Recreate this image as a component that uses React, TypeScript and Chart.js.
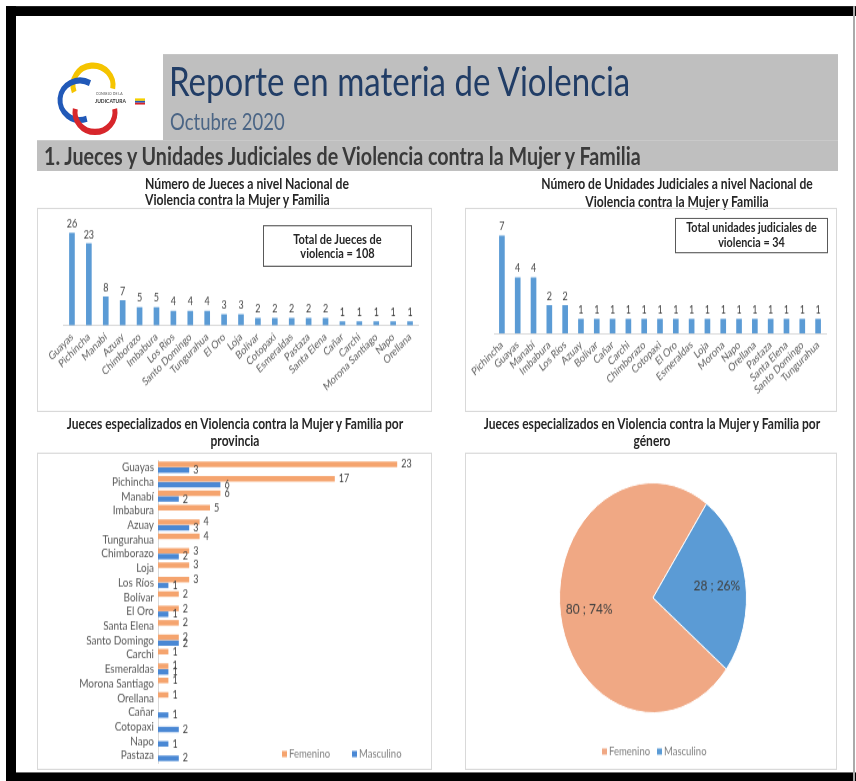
import React, { useEffect, useRef } from "react";
import { Chart, registerables } from "chart.js";
Chart.register(...registerables);

// ---------- DATA ----------
const judgeProvinces = ["Guayas", "Pichincha", "Manabí", "Azuay", "Chimborazo", "Imbabura", "Los Ríos", "Santo Domingo", "Tungurahua", "El Oro", "Loja", "Bolívar", "Cotopaxi", "Esmeraldas", "Pastaza", "Santa Elena", "Cañar", "Carchi", "Morona Santiago", "Napo", "Orellana"];
const judgeCounts = [26, 23, 8, 7, 5, 5, 4, 4, 4, 3, 3, 2, 2, 2, 2, 2, 1, 1, 1, 1, 1];

const unitProvinces = ["Pichincha", "Guayas", "Manabí", "Imbabura", "Los Ríos", "Azuay", "Bolívar", "Cañar", "Carchi", "Chimborazo", "Cotopaxi", "El Oro", "Esmeraldas", "Loja", "Morona", "Napo", "Orellana", "Pastaza", "Santa Elena", "Santo Domingo", "Tungurahua"];
const unitCounts = [7, 4, 4, 2, 2, 1, 1, 1, 1, 1, 1, 1, 1, 1, 1, 1, 1, 1, 1, 1, 1];

const byProvince = ["Guayas", "Pichincha", "Manabí", "Imbabura", "Azuay", "Tungurahua", "Chimborazo", "Loja", "Los Ríos", "Bolívar", "El Oro", "Santa Elena", "Santo Domingo", "Carchi", "Esmeraldas", "Morona Santiago", "Orellana", "Cañar", "Cotopaxi", "Napo", "Pastaza"];
const femaleByProvince = [23, 17, 6, 5, 4, 4, 3, 3, 3, 2, 2, 2, 2, 1, 1, 1, 1, null, null, null, null];
const maleByProvince = [3, 6, 2, null, 3, null, 2, null, 1, null, 1, null, 2, null, 1, null, null, 1, 2, 1, 2];

const genderLabels = ["Femenino", "Masculino"];
const genderTotals = [80, 28];

const totalJudges = 108;
const totalUnits = 34;

// ---------- STYLE ----------
const FONT = "Lato, 'Open Sans', sans-serif";
const BLUE = "#5b9bd5";
const ORANGE = "#f5a46e";
const BLUE2 = "#4a88d4";
const SALMON = "#f0a884";
const SY = 1.23;

function valueLabelPlugin(horizontal: boolean, size: number, offset: number) {
  return {
    id: "valueLabels",
    afterDatasetsDraw(chart: any) {
      const ctx = chart.ctx;
      ctx.save();
      ctx.font = `${size}px ${FONT}`;
      ctx.fillStyle = "#404040";
      chart.data.datasets.forEach((ds: any, di: number) => {
        const meta = chart.getDatasetMeta(di);
        meta.data.forEach((el: any, i: number) => {
          const v = ds.data[i];
          if (v == null) return;
          const { x, y } = el.getProps(["x", "y"], true);
          if (horizontal) {
            ctx.textAlign = "left";
            ctx.textBaseline = "middle";
            ctx.fillText(String(v), x + offset, y);
          } else {
            ctx.textAlign = "center";
            ctx.textBaseline = "bottom";
            ctx.fillText(String(v), x, y - offset);
          }
        });
      });
      ctx.restore();
    },
  };
}

function legendPlugin(items: { text: string; color: string; x: number }[], y: number, size: number) {
  return {
    id: "customLegend",
    afterDraw(chart: any) {
      const ctx = chart.ctx;
      ctx.save();
      ctx.font = `${size}px ${FONT}`;
      ctx.textBaseline = "middle";
      ctx.textAlign = "left";
      items.forEach((it) => {
        ctx.fillStyle = it.color;
        ctx.fillRect(it.x, y - 2.5, 5, 5);
        ctx.fillStyle = "#7f7f7f";
        ctx.fillText(it.text, it.x + 7, y);
      });
      ctx.restore();
    },
  };
}

const pieLabelPlugin = {
  id: "pieLabels",
  afterDatasetsDraw(chart: any) {
    const ctx = chart.ctx;
    const ds = chart.data.datasets[0];
    const total = ds.data.reduce((a: number, b: number) => a + b, 0);
    const meta = chart.getDatasetMeta(0);
    ctx.save();
    ctx.font = `12px ${FONT}`;
    ctx.fillStyle = "#404040";
    ctx.textAlign = "center";
    ctx.textBaseline = "middle";
    meta.data.forEach((arc: any, i: number) => {
      const { x, y, startAngle, endAngle, outerRadius } = arc.getProps(["x", "y", "startAngle", "endAngle", "outerRadius"], true);
      const mid = (startAngle + endAngle) / 2;
      const d = outerRadius * 0.69;
      const v = ds.data[i];
      ctx.fillText(`${v} ; ${Math.round((v / total) * 100)}%`, x + Math.cos(mid) * d, y + Math.sin(mid) * d);
    });
    ctx.restore();
  },
};

function CanvasChart({ x, y, w, h, build }: any) {
  const ref = useRef<HTMLCanvasElement>(null);
  useEffect(() => {
    const c = new Chart(ref.current as HTMLCanvasElement, build());
    return () => c.destroy();
  }, []);
  return <canvas ref={ref} width={w} height={h} style={{ position: "absolute", left: x, top: y, width: w, height: h }} />;
}

function columnConfig(labels: string[], values: number[], max: number, pad: any, xHeight: number) {
  return () => ({
    type: "bar",
    data: { labels, datasets: [{ data: values, backgroundColor: BLUE, barThickness: 5 }] },
    options: {
      animation: false,
      responsive: false,
      layout: { padding: pad },
      plugins: { legend: { display: false }, tooltip: { enabled: false } },
      scales: {
        x: {
          grid: { display: false, drawTicks: false },
          border: { display: true, color: "#d9d9d9" },
          ticks: { color: "#595959", font: { size: 9, family: FONT }, minRotation: 40, maxRotation: 40, autoSkip: false, padding: 4 },
          afterFit(s: any) {
            s.height = xHeight;
            s.paddingLeft = 0;
            s.paddingRight = 0;
          },
        },
        y: { display: false, min: 0, max },
      },
    },
    plugins: [valueLabelPlugin(false, 9, 3)],
  });
}

const provinceConfig = () => ({
  type: "bar",
  data: {
    labels: byProvince,
    datasets: [
      { label: genderLabels[0], data: femaleByProvince, backgroundColor: ORANGE, categoryPercentage: 0.8, barPercentage: 0.95 },
      { label: genderLabels[1], data: maleByProvince, backgroundColor: BLUE2, categoryPercentage: 0.8, barPercentage: 0.95 },
    ],
  },
  options: {
    indexAxis: "y",
    animation: false,
    responsive: false,
    layout: { padding: { left: 0, right: 13, top: 6, bottom: 5 } },
    plugins: { legend: { display: false }, tooltip: { enabled: false } },
    scales: {
      x: { display: false, min: 0, max: 25 },
      y: {
        grid: { display: false, drawTicks: false },
        border: { display: true, color: "#d9d9d9" },
        ticks: { color: "#595959", font: { size: 10, family: FONT }, autoSkip: false, padding: 4 },
        afterFit(s: any) {
          s.width = 120;
          s.paddingTop = 0;
          s.paddingBottom = 0;
        },
      },
    },
  },
  plugins: [
    valueLabelPlugin(true, 9, 4),
    legendPlugin(
      [
        { text: genderLabels[0], color: ORANGE, x: 244 },
        { text: genderLabels[1], color: BLUE2, x: 314 },
      ],
      245,
      9.5
    ),
  ],
});

const pieConfig = () => ({
  type: "pie",
  data: { labels: genderLabels, datasets: [{ data: genderTotals, backgroundColor: [SALMON, BLUE], borderColor: "#ffffff", borderWidth: 1 }] },
  options: {
    animation: false,
    responsive: false,
    rotation: 128.3,
    layout: { padding: { top: 24, bottom: 45, left: 92, right: 88 } },
    plugins: { legend: { display: false }, tooltip: { enabled: false } },
  },
  plugins: [
    pieLabelPlugin,
    legendPlugin(
      [
        { text: genderLabels[0], color: SALMON, x: 135 },
        { text: genderLabels[1], color: BLUE, x: 190 },
      ],
      243,
      9.5
    ),
  ],
});

function Txt({ x, y, size, children, bold, color, align, w }: any) {
  const lh = size * 1.3;
  return (
    <div
      style={{
        position: "absolute",
        left: align === "center" ? x - w / 2 : x,
        top: y - lh / 2,
        width: align === "center" ? w : undefined,
        textAlign: align || "left",
        fontFamily: FONT,
        fontSize: size,
        lineHeight: `${lh}px`,
        fontWeight: bold ? 700 : 400,
        color: color || "#000",
        whiteSpace: "nowrap",
      }}
    >
      {children}
    </div>
  );
}

function Logo() {
  return (
    <svg style={{ position: "absolute", left: 55, top: 49 }} width={95} height={61} viewBox="0 0 95 61">
      <path d="M 19.2 25.8 A 20 16 0 1 1 57.7 23.1" fill="none" stroke="#f5c400" strokeWidth={5} />
      <path d="M 35 18.6 A 20 16 0 1 0 31.8 47.5" fill="none" stroke="#2159b8" strokeWidth={5} />
      <path d="M 20.3 39.5 A 20 16 0 1 0 59.7 39.5" fill="none" stroke="#d7262b" strokeWidth={5} />
      <text x={41} y={28} fontSize={3.5} fill="#555" fontFamily={FONT}>CONSEJO DE LA</text>
      <text x={40} y={35} fontSize={5} fontWeight={700} fill="#333" fontFamily={FONT}>JUDICATURA</text>
      <rect x={80} y={31} width={10} height={2} fill="#f5d000" />
      <rect x={80} y={33} width={10} height={1.5} fill="#2159b8" />
      <rect x={80} y={34.5} width={10} height={1.5} fill="#d7262b" />
    </svg>
  );
}

function Box({ x, y, w, h, border }: any) {
  return <div style={{ position: "absolute", left: x, top: y, width: w, height: h, border: `1px solid ${border || "#d9d9d9"}`, boxSizing: "border-box" }} />;
}

export default function App() {
  return (
    <div style={{ position: "absolute", left: 0, top: 0, width: 856, height: 781, background: "#fff", overflow: "hidden" }}>
      <div style={{ position: "absolute", left: 0, top: 0, width: 856, height: 635, transform: `scaleY(${SY})`, transformOrigin: "0 0" }}>
        {/* frame */}
        <div style={{ position: "absolute", left: 6, top: 5, width: 850, height: 8, background: "#000" }} />
        <div style={{ position: "absolute", left: 6, top: 5, width: 10, height: 630, background: "#000" }} />
        <div style={{ position: "absolute", left: 6, top: 627.5, width: 850, height: 8, background: "#000" }} />
        <div style={{ position: "absolute", left: 853, top: 5, width: 1.5, height: 630, background: "#aaa" }} />

        {/* header */}
        <div style={{ position: "absolute", left: 163, top: 43.5, width: 675, height: 70.5, background: "#bfbfbf" }} />
        <div style={{ position: "absolute", left: 37, top: 113.8, width: 801, height: 25.2, background: "#bfbfbf" }} />
        <Logo />
        <Txt x={169} y={65.5} size={33} color="#213d66">Reporte en materia de Violencia</Txt>
        <Txt x={170} y={99} size={18.5} color="#4b6585">Octubre 2020</Txt>
        <Txt x={44} y={126.5} size={19.7} bold color="#3a3a3a">1. Jueces y Unidades Judiciales de Violencia contra la Mujer y Familia</Txt>

        {/* chart titles */}
        <Txt x={145} y={149.6} size={12.2} bold color="#262626">Número de Jueces a nivel Nacional de</Txt>
        <Txt x={145} y={163.4} size={12.2} bold color="#262626">Violencia contra la Mujer y Familia</Txt>
        <Txt x={677} y={149.6} size={12.1} bold color="#262626" align="center" w={330}>Número de Unidades Judiciales a nivel Nacional de</Txt>
        <Txt x={677} y={163.4} size={12.1} bold color="#262626" align="center" w={330}>Violencia contra la Mujer y Familia</Txt>
        <Txt x={235} y={344.7} size={12} bold color="#262626" align="center" w={395}>Jueces especializados en Violencia contra la Mujer y Familia por</Txt>
        <Txt x={235} y={358.5} size={12} bold color="#262626" align="center" w={395}>provincia</Txt>
        <Txt x={652} y={344.7} size={12} bold color="#262626" align="center" w={372}>Jueces especializados en Violencia contra la Mujer y Familia por</Txt>
        <Txt x={652} y={358.5} size={12} bold color="#262626" align="center" w={372}>género</Txt>

        {/* chart frames */}
        <Box x={37} y={169} w={395} h={166} />
        <Box x={465} y={169} w={372} h={166} />
        <Box x={37} y={367.5} w={395} h={258.5} />
        <Box x={465} y={367.5} w={372} h={258.5} />

        <CanvasChart x={38} y={171} w={393} h={163} build={columnConfig(judgeProvinces, judgeCounts, 30, { left: 25.5, right: 12.5, top: 7, bottom: 0 }, 69.5)} />
        <CanvasChart x={467} y={171} w={368} h={163} build={columnConfig(unitProvinces, unitCounts, 8, { left: 27, right: 9, top: 9.5, bottom: 0 }, 63)} />
        <CanvasChart x={38} y={368} w={393} h={257} build={provinceConfig} />
        <CanvasChart x={467} y={368} w={368} h={257} build={pieConfig} />

        {/* total boxes */}
        <Box x={263} y={183} w={149} h={34} border="#595959" />
        <Txt x={337.5} y={194} size={11} bold color="#262626" align="center" w={149}>Total de Jueces de</Txt>
        <Txt x={337.5} y={206.5} size={11} bold color="#262626" align="center" w={149}>violencia = {totalJudges}</Txt>
        <Box x={675} y={177} w={153} h={28.5} border="#595959" />
        <Txt x={751.5} y={185.5} size={10.8} bold color="#262626" align="center" w={153}>Total unidades judiciales de</Txt>
        <Txt x={751.5} y={197} size={10.8} bold color="#262626" align="center" w={153}>violencia = {totalUnits}</Txt>
      </div>
    </div>
  );
}
